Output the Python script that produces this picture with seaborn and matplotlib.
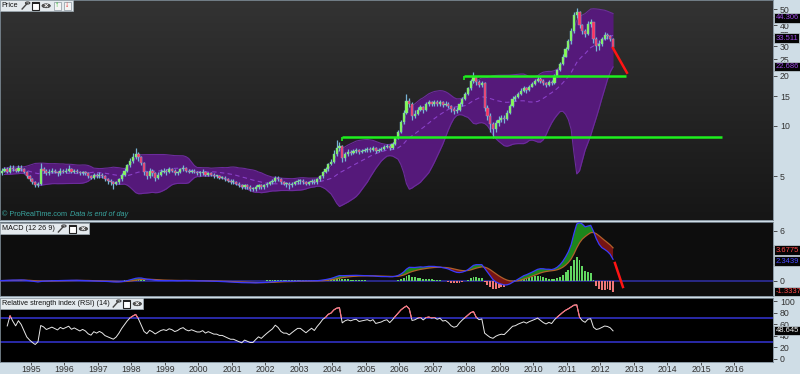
import numpy as np
import pandas as pd
import matplotlib
matplotlib.use("Agg")
import matplotlib.pyplot as plt
import seaborn as sns
from matplotlib.patches import Rectangle, Circle
from matplotlib.colors import LinearSegmentedColormap

FONT = ["DejaVu Sans Condensed", "Liberation Sans Narrow", "Liberation Sans", "DejaVu Sans"]
plt.rcParams["font.family"] = FONT

# ---------------- data (monthly candles, Jan 1994 .. May 2012) ----------------
start_year = 1994
first_open = 5.1
closes = [
    5.2, 5.4, 5.5, 5.3, 5.6, 5.5, 5.4, 5.6, 5.5, 5.3, 5.0, 4.8,        # 1994
    4.6, 4.4, 4.5, 5.5, 5.4, 5.2, 5.3, 5.4, 5.3, 5.2, 5.4, 5.3,        # 1995
    5.4, 5.5, 5.3, 5.4, 5.3, 5.2, 5.3, 5.2, 5.0, 4.9, 5.1, 5.0,        # 1996
    5.1, 5.0, 4.8, 4.7, 4.6, 4.5, 4.6, 4.8, 5.1, 5.4, 5.8, 6.2,        # 1997
    6.5, 6.8, 6.5, 6.0, 5.3, 5.0, 5.4, 5.2, 4.9, 5.1, 5.3, 5.4,        # 1998
    5.3, 5.5, 5.4, 5.2, 5.3, 5.5, 5.6, 5.4, 5.3, 5.4, 5.3, 5.2,        # 1999
    5.2, 5.3, 5.1, 5.2, 5.1, 5.0, 5.0, 4.9, 4.9, 4.8, 4.7, 4.6,        # 2000
    4.6, 4.5, 4.4, 4.3, 4.4, 4.3, 4.2, 4.2, 4.3, 4.4, 4.3, 4.4,        # 2001
    4.5, 4.6, 4.7, 4.9, 4.8, 4.6, 4.5, 4.5, 4.4, 4.5, 4.6, 4.7,        # 2002
    4.7, 4.6, 4.5, 4.6, 4.7, 4.6, 4.8, 5.0, 5.3, 5.5, 5.9, 6.1,        # 2003
    6.8, 7.4, 7.6, 6.4, 6.8, 7.0, 6.9, 7.1, 7.2, 7.0, 7.1, 7.2,        # 2004
    7.3, 7.2, 7.4, 7.1, 7.2, 7.3, 7.5, 7.6, 7.4, 7.8, 8.4, 9.2,        # 2005
    10.5, 12.0, 14.0, 13.6, 11.5, 11.8, 12.5, 12.9, 12.4, 13.5, 13.8, 13.6,  # 2006
    13.8, 13.5, 13.9, 13.4, 13.6, 13.2, 12.6, 12.3, 12.5, 13.5, 14.5, 15.5,  # 2007
    16.8, 18.5, 19.5, 18.2, 17.6, 18.0, 12.8, 11.5, 10.2, 9.6, 10.4, 10.9,   # 2008
    11.2, 11.0, 12.0, 13.2, 14.5, 14.8, 15.6, 16.2, 16.8, 16.4, 17.2, 17.8,  # 2009
    18.5, 19.2, 18.6, 18.0, 17.6, 18.3, 18.0, 19.8, 21.5, 23.5, 26.0, 29.0,  # 2010
    32.0, 37.0, 46.0, 48.0, 40.0, 37.0, 35.5, 41.0, 42.0, 33.0, 30.0, 31.0,  # 2011
    33.0, 35.0, 34.5, 33.0, 29.5,                                            # 2012
]
highs = [
    5.4, 5.6, 5.7, 5.7, 5.8, 5.8, 5.6, 5.8, 5.8, 5.6, 5.4, 5.1,
    4.9, 4.7, 4.6, 6.0, 5.7, 5.5, 5.5, 5.6, 5.5, 5.4, 5.6, 5.5,
    5.6, 5.8, 5.6, 5.5, 5.5, 5.4, 5.4, 5.4, 5.3, 5.1, 5.2, 5.2,
    5.3, 5.2, 5.1, 4.9, 4.8, 4.7, 4.7, 4.9, 5.2, 5.6, 5.9, 6.4,
    6.9, 7.4, 7.0, 6.6, 6.1, 5.4, 5.6, 5.5, 5.3, 5.3, 5.5, 5.6,
    5.5, 5.7, 5.6, 5.5, 5.4, 5.6, 5.8, 5.7, 5.5, 5.5, 5.5, 5.4,
    5.4, 5.5, 5.4, 5.3, 5.3, 5.2, 5.1, 5.1, 5.0, 5.0, 4.9, 4.8,
    4.8, 4.7, 4.6, 4.5, 4.5, 4.5, 4.4, 4.3, 4.4, 4.5, 4.5, 4.5,
    4.6, 4.7, 4.8, 5.0, 5.0, 4.9, 4.7, 4.6, 4.6, 4.6, 4.7, 4.8,
    4.8, 4.8, 4.7, 4.7, 4.8, 4.8, 4.9, 5.1, 5.4, 5.7, 6.0, 6.3,
    7.2, 8.2, 8.0, 7.7, 7.0, 7.3, 7.2, 7.3, 7.4, 7.3, 7.3, 7.4,
    7.5, 7.5, 7.6, 7.5, 7.4, 7.5, 7.7, 7.8, 7.8, 8.0, 8.6, 9.5,
    10.8, 12.4, 15.5, 14.6, 13.8, 12.4, 12.9, 13.4, 13.2, 13.8, 14.2, 14.1,
    14.3, 14.2, 14.3, 14.1, 14.0, 13.9, 13.4, 12.9, 12.9, 13.8, 14.9, 16.0,
    17.2, 19.2, 21.0, 20.0, 18.8, 18.6, 18.4, 13.4, 12.0, 10.6, 10.8, 11.4,
    11.6, 11.6, 12.4, 13.6, 15.0, 15.4, 16.0, 16.8, 17.4, 17.2, 17.6, 18.4,
    19.0, 19.8, 19.6, 19.0, 18.3, 18.8, 18.7, 20.3, 22.0, 24.0, 26.8, 29.8,
    33.0, 38.5, 48.0, 51.0, 48.5, 41.0, 38.0, 42.5, 43.5, 42.0, 34.0, 32.5,
    34.0, 36.5, 36.0, 35.0, 33.5,
]
lows = [
    5.0, 5.1, 5.3, 5.2, 5.2, 5.4, 5.3, 5.3, 5.4, 5.2, 4.9, 4.7,
    4.5, 4.3, 4.3, 4.4, 5.2, 5.1, 5.1, 5.2, 5.2, 5.0, 5.1, 5.2,
    5.2, 5.3, 5.2, 5.2, 5.2, 5.1, 5.1, 5.1, 4.9, 4.8, 4.8, 4.9,
    4.9, 4.9, 4.7, 4.5, 4.4, 4.2, 4.4, 4.5, 4.7, 5.0, 5.3, 5.7,
    6.0, 6.3, 6.2, 5.8, 5.1, 4.8, 4.9, 5.0, 4.7, 4.8, 5.0, 5.2,
    5.1, 5.2, 5.3, 5.1, 5.1, 5.2, 5.4, 5.3, 5.2, 5.2, 5.2, 5.1,
    5.0, 5.1, 5.0, 5.0, 5.0, 4.9, 4.9, 4.8, 4.8, 4.7, 4.6, 4.5,
    4.5, 4.4, 4.3, 4.2, 4.2, 4.2, 4.1, 4.1, 4.1, 4.2, 4.2, 4.2,
    4.3, 4.4, 4.5, 4.6, 4.7, 4.5, 4.4, 4.3, 4.2, 4.3, 4.4, 4.5,
    4.5, 4.5, 4.4, 4.4, 4.5, 4.5, 4.5, 4.7, 4.9, 5.2, 5.4, 5.8,
    6.0, 6.6, 7.1, 6.1, 6.2, 6.6, 6.7, 6.8, 6.9, 6.8, 6.9, 7.0,
    7.0, 7.0, 7.1, 6.9, 7.0, 7.1, 7.2, 7.4, 7.2, 7.3, 7.7, 8.3,
    9.0, 10.3, 11.8, 13.0, 10.9, 11.2, 11.6, 12.3, 12.0, 12.3, 13.1, 13.1,
    13.2, 13.1, 13.2, 13.0, 13.1, 12.8, 12.1, 11.8, 12.0, 12.3, 13.2, 14.3,
    15.2, 16.4, 18.0, 17.6, 17.0, 17.2, 12.2, 10.8, 9.2, 8.5, 9.2, 10.0,
    10.5, 10.4, 10.8, 11.8, 12.9, 14.1, 14.6, 15.3, 15.9, 15.7, 16.2, 17.0,
    17.5, 18.2, 18.0, 17.5, 17.0, 17.3, 17.5, 17.8, 19.5, 21.2, 23.2, 25.8,
    28.5, 31.0, 36.0, 44.0, 38.5, 35.5, 34.0, 35.0, 39.0, 31.5, 28.0, 28.5,
    30.0, 32.5, 33.0, 32.0, 29.0,
]
year_ticks = list(range(1995, 2017))
price_ticks = [5, 10, 15, 20, 25, 30, 35, 40, 45, 50]
price_tick_labels = ["5", "10", "15", "20", "25", "30", "35", "40", "", "50"]
macd_ticks = [0, 2, 4, 6]
macd_tick_labels = ["0", "", "", "6"]
rsi_ticks = [0, 20, 40, 60, 80, 100]
support_levels = [8.54, 19.8]
support_start = [2004.28, 2007.93]
support_end = [2015.63, 2012.76]
arrow_price_t = [2012.37, 2012.79]
arrow_price_v = [29.3, 20.8]
arrow_macd_t = [2012.43, 2012.67]
arrow_macd_v = [2.12, -0.76]
price_box_vals = [44.306, 33.511, 22.686]
macd_box_vals = [3.6775, 2.3439, -1.3337]
macd_box_cols = ["#ff4a4a", "#4a4aff", "#ff4a4a"]
rsi_box_val = 48.645

# ---------------- indicators ----------------
n = len(closes)
t = start_year + (np.arange(n) + 0.5) / 12.0
s = pd.Series(closes, dtype=float)
opens = np.array([first_open] + closes[:-1], dtype=float)
c = np.array(closes, dtype=float)
hi = np.array(highs, dtype=float)
lo = np.array(lows, dtype=float)

mid = s.rolling(20, min_periods=3).mean()
sd = s.rolling(20, min_periods=3).std(ddof=0)
bb_up = mid + 2 * sd
bb_lo = (mid - 2 * sd).clip(lower=0.5)

ema12 = s.ewm(span=12, adjust=False).mean()
ema26 = s.ewm(span=26, adjust=False).mean()
macd = ema12 - ema26
sig = macd.ewm(span=9, adjust=False).mean()
hist = macd - sig

d = s.diff()
gain = d.clip(lower=0)
loss = -d.clip(upper=0)
ag = gain.ewm(alpha=1 / 14, adjust=True, min_periods=3).mean()
al = loss.ewm(alpha=1 / 14, adjust=True, min_periods=3).mean()
rsi = 100 - 100 / (1 + ag / al)

df = pd.DataFrame({"t": t, "mid": mid, "macd": macd, "sig": sig, "rsi": rsi})

# ---------------- figure ----------------
W, H = 800, 374
fig = plt.figure(figsize=(8, 3.74), dpi=100)
fig.patch.set_facecolor("#cfdde6")

def rect(y0, y1, x0=0, x1=773):
    return [x0 / W, 1 - y1 / H, (x1 - x0) / W, (y1 - y0) / H]

xlim = (1994.075, 2017.15)

ax_bg = fig.add_axes(rect(0, 220), zorder=-1)
grad = np.linspace(0, 1, 256).reshape(-1, 1)
ax_bg.imshow(grad, cmap=LinearSegmentedColormap.from_list("g", ["#333333", "#161616"]),
             aspect="auto", extent=[0, 1, 0, 1])
ax_bg.set_axis_off()

ax_p = fig.add_axes(rect(0, 220))
ax_m = fig.add_axes(rect(222, 296))
ax_r = fig.add_axes(rect(298, 362))
ax_p.set_facecolor("none")
ax_m.set_facecolor("#0d0d0d")
ax_r.set_facecolor("#000000")

TICK_FS = 6.3
for ax in (ax_p, ax_m, ax_r):
    ax.set_xlim(*xlim)
    for sp in ax.spines.values():
        sp.set_color("#7d8b96")
        sp.set_linewidth(0.6)
    ax.yaxis.tick_right()
    ax.tick_params(axis="y", labelsize=TICK_FS, colors="#333333", length=3, width=0.6, pad=2,
                   which="both")
    ax.grid(False)

# ---- price panel ----
ax_p.set_yscale("log")
ax_p.fill_between(t, bb_lo, bb_up, color="#55197a", lw=0, zorder=1)
ax_p.plot(t, bb_up, color="#6c2c9c", lw=0.8, zorder=1.5)
ax_p.plot(t, bb_lo, color="#6c2c9c", lw=0.8, zorder=1.5)
sns.lineplot(data=df, x="t", y="mid", ax=ax_p, color="#8a40c8", lw=0.8,
             linestyle=(0, (4, 3)), zorder=1.6, legend=False)

up = c >= opens
body_lo = np.minimum(opens, c)
body_h = np.maximum(np.abs(c - opens), body_lo * 0.012)
ax_p.vlines(t, lo, hi, color="#78b4d6", lw=0.9, zorder=2)
ax_p.bar(t, body_h, bottom=body_lo, width=0.066,
         color=np.where(up, "#86ff4a", "#ff2e5e"), edgecolor="#7fb8d8",
         linewidth=0.3, zorder=3)

for lvl, a, b in zip(support_levels, support_start, support_end):
    ax_p.hlines(lvl, a, b, color="#1ef01e", lw=1.8, zorder=4)
    ax_p.vlines(a, lvl * 0.95, lvl, color="#1ef01e", lw=1.2, zorder=4)
ax_p.plot(arrow_price_t, arrow_price_v, color="#ff1414", lw=1.8, zorder=4)

ax_p.set_ylim(2.73, 56.7)
ax_p.set_yticks(price_ticks)
ax_p.set_yticklabels(price_tick_labels)
ax_p.yaxis.set_minor_locator(matplotlib.ticker.NullLocator())
ax_p.set_xticks([])
ax_p.set_xlabel("")
ax_p.set_ylabel("")

# ---- MACD panel ----
ax_m.axhline(0, color="#2c2c90", lw=1.3, zorder=1)
ax_m.bar(t, hist, width=0.055, color=np.where(hist >= 0, "#62d862", "#f07878"),
         lw=0, zorder=2)
ax_m.fill_between(t, macd, sig, where=(macd >= sig), interpolate=True,
                  color="#1c861c", lw=0, zorder=3)
ax_m.fill_between(t, macd, sig, where=(macd < sig), interpolate=True,
                  color="#761414", lw=0, zorder=3)
sns.lineplot(data=df, x="t", y="sig", ax=ax_m, color="#b0602a", lw=0.9, zorder=4, legend=False)
sns.lineplot(data=df, x="t", y="macd", ax=ax_m, color="#3a3aff", lw=0.9, zorder=4, legend=False)
ax_m.plot(arrow_macd_t, arrow_macd_v, color="#ff1414", lw=1.8, zorder=5)
ax_m.set_ylim(-1.84, 7.04)
ax_m.set_yticks(macd_ticks)
ax_m.set_yticklabels(macd_tick_labels)
ax_m.set_xticks([])
ax_m.set_xlabel("")
ax_m.set_ylabel("")

# ---- RSI panel ----
ax_r.axhline(70, color="#2a2aa8", lw=1.4, zorder=1)
ax_r.axhline(30, color="#2a2aa8", lw=1.4, zorder=1)
sns.lineplot(data=df, x="t", y="rsi", ax=ax_r, color="#e8e8e8", lw=0.7, zorder=3, legend=False)
red_line, = ax_r.plot(t, rsi, color="#ff6a78", lw=0.8, zorder=4)
clip = Rectangle((xlim[0], 70), xlim[1] - xlim[0], 50, transform=ax_r.transData)
red_line.set_clip_path(clip)
ax_r.set_ylim(-5.2, 105.2)
ax_r.set_yticks(rsi_ticks)
ax_r.set_yticklabels([str(v) for v in rsi_ticks])
ax_r.set_xticks(year_ticks)
ax_r.set_xticklabels([str(y) for y in year_ticks])
ax_r.tick_params(axis="x", labelsize=TICK_FS, colors="#333333", length=2, width=0.6, pad=0.5)
ax_r.set_xlabel("")
ax_r.set_ylabel("")

# ---- value boxes on right axis ----
def vbox(ax, val, txt, col):
    ax.annotate(txt, xy=(1.0, val), xycoords=("axes fraction", "data"),
                xytext=(1.8, 0), textcoords="offset points", ha="left", va="center",
                fontsize=5.5, color=col, annotation_clip=False, zorder=20,
                bbox=dict(boxstyle="square,pad=0.15", fc="#050505", ec="#b8c4cc", lw=0.6))

for v in price_box_vals:
    vbox(ax_p, v, f"{v:.3f}", "#9a48e0")
for v, col in zip(macd_box_vals, macd_box_cols):
    vbox(ax_m, v, f"{v:.4f}", col)
vbox(ax_r, rsi_box_val, f"{rsi_box_val:.3f}", "#f0f0f0")

# ---- panel headers ----
renderer = fig.canvas.get_renderer()

def fx(x):
    return x / W

def fy(y):
    return 1 - y / H

def header(y0, label, icons_x, arrows=False):
    txt = fig.text(fx(1.5), fy(y0 + 5.8), label, fontsize=5.2, color="#111111", va="center",
                   ha="left", zorder=6)
    x_text_end = txt.get_window_extent(renderer).x1
    shift = max(0.0, x_text_end + 7 - icons_x[0])
    xs = [x + shift for x in icons_x]
    x_end = xs[-1] + 6
    fig.patches.append(Rectangle((0, fy(y0 + 11)), fx(x_end), 11 / H, transform=fig.transFigure,
                                 fc="#e4eaee", ec="#9aa6ae", lw=0.6, zorder=5))
    xw, xwin, xc = xs[:3]
    # wrench
    fig.lines.append(plt.Line2D([fx(xw - 3), fx(xw + 2)], [fy(y0 + 9), fy(y0 + 3.5)],
                                transform=fig.transFigure, color="#444444", lw=1.0, zorder=6))
    fig.patches.append(Circle((fx(xw + 2.5), fy(y0 + 3)), 2.2 / W, transform=fig.transFigure,
                              fc="none", ec="#444444", lw=0.8, zorder=6))
    # window
    fig.patches.append(Rectangle((fx(xwin - 3.5), fy(y0 + 9.5)), 7 / W, 7.5 / H,
                                 transform=fig.transFigure, fc="white", ec="#222222",
                                 lw=0.8, zorder=6))
    fig.patches.append(Rectangle((fx(xwin - 3.5), fy(y0 + 4)), 7 / W, 2 / H,
                                 transform=fig.transFigure, fc="#222222", ec="none", zorder=7))
    # close
    fig.patches.append(Circle((fx(xc), fy(y0 + 5.8)), 4.2 / W, transform=fig.transFigure,
                              fc="#555555", ec="#333333", lw=0.5, zorder=6))
    fig.text(fx(xc), fy(y0 + 5.8), "×", fontsize=5.5, color="white", ha="center",
             va="center", zorder=7, fontweight="bold")
    if arrows:
        for xa, ch, col in ((xs[3], "↑", "#18b418"), (xs[4], "↓", "#e01818")):
            fig.patches.append(Rectangle((fx(xa - 3.5), fy(y0 + 9.5)), 7 / W, 7.5 / H,
                                         transform=fig.transFigure, fc="#f4f4f4",
                                         ec="#8a96a0", lw=0.5, zorder=6))
            fig.text(fx(xa), fy(y0 + 5.6), ch, fontsize=6, color=col, ha="center",
                     va="center", zorder=7, fontweight="bold")

header(0, "Price", [22, 32, 43, 54, 64], arrows=True)
header(223, "MACD (12 26 9)", [52, 63, 74])
header(298, "Relative strength index (RSI) (14)", [103, 113, 124])

cp = fig.text(fx(1.5), fy(215), "© ProRealTime.com", fontsize=5.2, color="#3aa6a0", va="center")
x_cp = cp.get_window_extent(renderer).x1
fig.text(fx(max(58, x_cp + 4)), fy(215), "Data is end of day", fontsize=5.2, color="#3aa6a0",
         va="center", style="italic")

fig.savefig("out.png", dpi=100, facecolor=fig.get_facecolor())
